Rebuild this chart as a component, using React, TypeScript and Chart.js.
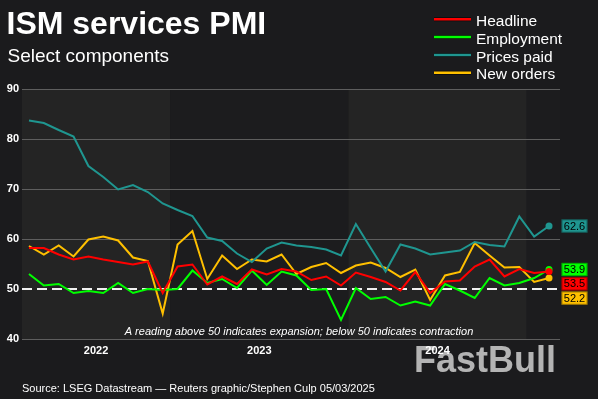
import React, { useEffect, useRef } from "react";
import { Chart, registerables } from "chart.js";

Chart.register(...registerables);

// Months Mar 2022 .. Feb 2025 (index 0..35)
const months: string[] = [
  "Mar 22","Apr 22","May 22","Jun 22","Jul 22","Aug 22","Sep 22","Oct 22","Nov 22","Dec 22",
  "Jan 23","Feb 23","Mar 23","Apr 23","May 23","Jun 23","Jul 23","Aug 23","Sep 23","Oct 23","Nov 23","Dec 23",
  "Jan 24","Feb 24","Mar 24","Apr 24","May 24","Jun 24","Jul 24","Aug 24","Sep 24","Oct 24","Nov 24","Dec 24",
  "Jan 25","Feb 25",
];

const headline: number[] = [
  58.2, 58.2, 56.9, 55.9, 56.5, 55.9, 55.4, 54.9, 55.5, 49.2,
  54.5, 54.9, 50.9, 52.5, 51.0, 53.9, 52.9, 54.0, 53.5, 51.8, 52.5, 50.7,
  53.3, 52.4, 51.4, 49.7, 53.4, 49.2, 51.5, 51.7, 54.5, 55.9, 52.5, 54.0,
  53.2, 53.5,
];
const employment: number[] = [
  53.0, 50.7, 51.0, 49.2, 49.6, 49.2, 51.2, 49.2, 50.0, 49.8,
  50.0, 53.7, 51.2, 52.0, 50.2, 53.7, 50.8, 53.5, 52.7, 49.8, 50.0, 43.8,
  50.2, 48.0, 48.4, 46.7, 47.5, 46.7, 51.0, 49.7, 48.2, 52.2, 50.7, 51.2,
  52.2, 53.9,
];
const pricesPaid: number[] = [
  83.7, 83.2, 81.8, 80.5, 74.6, 72.4, 69.9, 70.8, 69.4, 67.1,
  65.8, 64.6, 60.3, 59.6, 57.1, 55.4, 58.1, 59.3, 58.7, 58.4, 57.9, 56.7,
  63.0, 58.2, 53.5, 58.9, 58.1, 56.9, 57.3, 57.7, 59.4, 58.8, 58.5, 64.5,
  60.5, 62.6,
];
const newOrders: number[] = [
  58.6, 56.9, 58.7, 56.5, 59.9, 60.5, 59.7, 56.3, 55.6, 45.1,
  58.9, 61.6, 52.0, 56.7, 54.0, 55.9, 55.5, 56.9, 53.0, 54.4, 55.2, 53.2,
  54.7, 55.3, 54.2, 52.4, 53.9, 47.8, 52.7, 53.4, 59.2, 56.7, 54.3, 54.4,
  51.4, 52.2,
];

const seriesNames: string[] = ["Headline", "Employment", "Prices paid", "New orders"];
const seriesColors: string[] = ["#ff0000", "#00ff00", "#1f9690", "#ffc000"];

// Year bands: boundaries fall between Dec and Jan (index positions)
const yearLabels: string[] = ["2022", "2023", "2024", "2025"];
const yearStartIdx: number[] = [-0.47, 9.5, 21.5, 33.5];
const xMin = -0.47;
const xMax = 35.74;
const yTicks: number[] = [40, 50, 60, 70, 80, 90];
const thresholdValue = 50;

const titleText = "ISM services PMI";
const subtitleText = "Select components";
const noteText = "A reading above 50 indicates expansion; below 50 indicates contraction";
const sourceText = "Source: LSEG Datastream \u2014 Reuters graphic/Stephen Culp 05/03/2025";
const watermarkText = "FastBull";

const FONT = "Arial, 'Liberation Sans', sans-serif";
const BG = "#1b1b1d";
const BAND_LIGHT = "#242424";
const BAND_DARK = "#1c1c1e";

// x tick positions: centre of each visible year band (labels shown for full bands only)
const yearTickPos: number[] = [0, 1, 2].map((i) => {
  const a = Math.max(yearStartIdx[i], xMin);
  const b = Math.min(yearStartIdx[i + 1], xMax);
  return (a + b) / 2;
});

const decorPlugin = {
  id: "decor",
  beforeDraw(chart: any) {
    const { ctx, chartArea, scales } = chart;
    const xs = scales.x;
    ctx.save();
    ctx.fillStyle = BG;
    ctx.fillRect(0, 0, chart.width, chart.height);
    // year bands
    for (let i = 0; i < yearStartIdx.length; i++) {
      const a = Math.max(yearStartIdx[i], xMin);
      const b = i + 1 < yearStartIdx.length ? Math.min(yearStartIdx[i + 1], xMax) : xMax;
      const x0 = xs.getPixelForValue(a);
      const x1 = xs.getPixelForValue(b);
      ctx.fillStyle = i % 2 === 0 ? BAND_LIGHT : BAND_DARK;
      ctx.fillRect(x0, chartArea.top, x1 - x0, chartArea.bottom - chartArea.top);
    }
    // watermark
    ctx.fillStyle = "#b4b4b4";
    ctx.font = `bold 36px ${FONT}`;
    ctx.textBaseline = "alphabetic";
    ctx.textAlign = "left";
    ctx.fillText(watermarkText, 414, 372);
    ctx.restore();
  },
  beforeDatasetsDraw(chart: any) {
    const { ctx, chartArea, scales } = chart;
    const y = scales.y.getPixelForValue(thresholdValue);
    ctx.save();
    ctx.strokeStyle = "#f0f0f0";
    ctx.lineWidth = 2;
    ctx.setLineDash([10, 5]);
    ctx.beginPath();
    ctx.moveTo(chartArea.left, y);
    ctx.lineTo(chartArea.right, y);
    ctx.stroke();
    ctx.restore();
  },
  afterDraw(chart: any) {
    const { ctx, chartArea, scales } = chart;
    ctx.save();
    ctx.textAlign = "left";
    ctx.textBaseline = "alphabetic";
    // title / subtitle
    ctx.fillStyle = "#ffffff";
    ctx.font = `bold 32px ${FONT}`;
    ctx.fillText(titleText, 6.5, 34);
    ctx.font = `19px ${FONT}`;
    ctx.fillText(subtitleText, 7.5, 61.5);
    // legend
    const datasets = chart.data.datasets;
    ctx.font = `15.5px ${FONT}`;
    datasets.forEach((ds: any, i: number) => {
      const base = 26 + i * 17.8;
      ctx.strokeStyle = "rgba(0,0,0,0.6)";
      ctx.lineWidth = 4;
      ctx.beginPath();
      ctx.moveTo(434, base - 6.7);
      ctx.lineTo(471, base - 6.7);
      ctx.stroke();
      ctx.strokeStyle = ds.borderColor;
      ctx.lineWidth = 2.5;
      ctx.beginPath();
      ctx.moveTo(434, base - 6.7);
      ctx.lineTo(471, base - 6.7);
      ctx.stroke();
      ctx.fillStyle = "#ffffff";
      ctx.fillText(ds.label, 476, base);
    });
    // note
    ctx.font = `italic 11px ${FONT}`;
    ctx.textAlign = "center";
    ctx.fillText(noteText, (chartArea.left + chartArea.right) / 2 + 8, chartArea.bottom - 4.5);
    // source
    ctx.textAlign = "left";
    ctx.font = `11px ${FONT}`;
    ctx.fillText(sourceText, 22, 392);

    // end value boxes
    const ys = scales.y;
    const items = datasets.map((ds: any) => {
      const v = ds.data[ds.data.length - 1].y;
      return { v, y: ys.getPixelForValue(v), color: ds.borderColor };
    });
    items.sort((a: any, b: any) => a.y - b.y);
    const h = 14.3;
    for (let i = 1; i < items.length; i++) {
      if (items[i].y < items[i - 1].y + h) items[i].y = items[i - 1].y + h;
    }
    ctx.font = `11px ${FONT}`;
    ctx.textAlign = "center";
    ctx.textBaseline = "middle";
    items.forEach((it: any) => {
      const x0 = chartArea.right + 1.5;
      const w = 26;
      ctx.fillStyle = it.color;
      ctx.fillRect(x0, it.y - h / 2 + 0.5, w, h - 1);
      ctx.strokeStyle = "rgba(0,0,0,0.35)";
      ctx.lineWidth = 1;
      ctx.strokeRect(x0 + 0.5, it.y - h / 2 + 1, w - 1, h - 2);
      ctx.fillStyle = "#000000";
      ctx.fillText(it.v.toFixed(1), x0 + w / 2, it.y + 0.5);
    });
    ctx.restore();
  },
};

const seriesValues: number[][] = [headline, employment, pricesPaid, newOrders];

export default function App() {
  const ref = useRef<HTMLCanvasElement | null>(null);
  useEffect(() => {
    document.body.style.margin = "0";
    document.body.style.background = BG;
    const canvas = ref.current!;
    const last = months.length - 1;
    const chart = new Chart(canvas, {
      type: "line",
      data: {
        datasets: seriesValues.map((vals, si) => ({
          label: seriesNames[si],
          data: vals.map((v, i) => ({ x: i, y: v })),
          borderColor: seriesColors[si],
          backgroundColor: seriesColors[si],
          borderWidth: 2,
          tension: 0,
          pointRadius: (c: any) => (c.dataIndex === last ? 3.5 : 0),
          pointHoverRadius: 0,
          pointBorderWidth: 0,
          fill: false,
        })),
      },
      options: {
        animation: false,
        responsive: false,
        maintainAspectRatio: false,
        events: [],
        layout: { padding: { top: 89, right: 38, left: 0, bottom: 0 } },
        plugins: {
          legend: { display: false },
          tooltip: { enabled: false },
          title: { display: false },
        },
        scales: {
          x: {
            type: "linear",
            min: xMin,
            max: xMax,
            grid: { display: false, drawTicks: false },
            border: { display: false },
            afterBuildTicks: (s: any) => {
              s.ticks = yearTickPos.map((v) => ({ value: v }));
            },
            afterFit: (s: any) => {
              s.height = 60;
            },
            ticks: {
              autoSkip: false,
              maxRotation: 0,
              padding: 5,
              color: "#ffffff",
              font: { family: FONT, size: 11, weight: "bold" },
              callback: (val: any) => {
                const k = yearTickPos.findIndex((p) => Math.abs(p - val) < 1e-6);
                return k >= 0 ? yearLabels[k] : "";
              },
            },
          },
          y: {
            min: yTicks[0],
            max: yTicks[yTicks.length - 1],
            afterBuildTicks: (s: any) => {
              s.ticks = yTicks.map((v) => ({ value: v }));
            },
            afterFit: (s: any) => {
              s.width = 22;
            },
            grid: {
              color: (c: any) => (c.tick && c.tick.value === thresholdValue ? "rgba(0,0,0,0)" : "#5e5e5e"),
              lineWidth: 1,
              drawTicks: false,
            },
            border: { display: false },
            ticks: {
              color: "#ffffff",
              padding: 3,
              font: { family: FONT, size: 11, weight: "bold" },
            },
          },
        },
      },
      plugins: [decorPlugin],
    } as any);
    return () => chart.destroy();
  }, []);
  return (
    <div style={{ position: "absolute", left: 0, top: 0, width: 598, height: 399, background: BG }}>
      <canvas ref={ref} width={598} height={399} style={{ display: "block", width: 598, height: 399 }} />
    </div>
  );
}
